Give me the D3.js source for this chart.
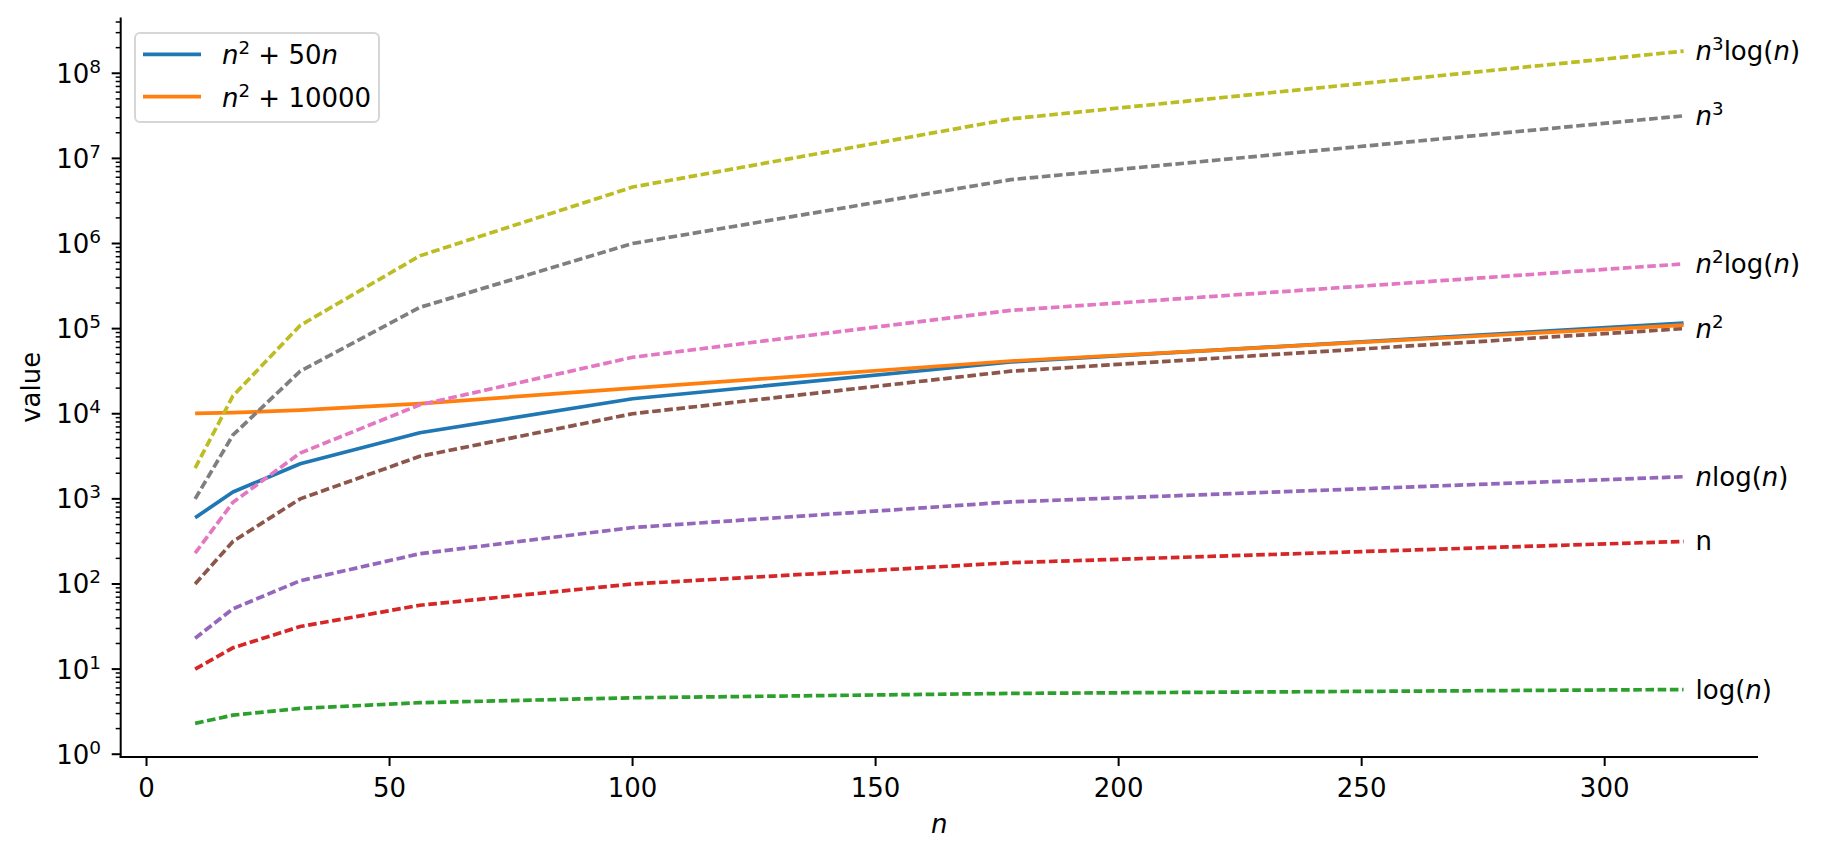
<!DOCTYPE html>
<html>
<head>
<meta charset="utf-8">
<script src="https://cdn.jsdelivr.net/npm/d3@7"></script>
<style>
  html, body { margin: 0; padding: 0; background: #fff; }
  svg { display: block; font-family: "DejaVu Sans", sans-serif; }
</style>
</head>
<body>
<svg id="chart" width="1821" height="858"></svg>
<script>
// ---------------- data ----------------
const nValues = [10, 17.78, 31.62, 56.23, 100, 177.83, 316.23];

const logN      = [2.303, 2.878, 3.454, 4.029, 4.605, 5.181, 5.756];
const linN      = [10, 17.78, 31.62, 56.23, 100, 177.83, 316.23];
const nLogN     = [23.03, 51.17, 109.2, 226.6, 460.5, 921.3, 1820.3];
const nSq       = [100, 316.2, 1000, 3162, 10000, 31623, 100000];
const nSqLogN   = [230.3, 910.2, 3454, 12741, 46052, 163840, 575646];
const nCube     = [1000, 5623, 31623, 177828, 1000000, 5623413, 31622777];
const nCubeLogN = [2303, 16184, 109220, 716490, 4605170, 29130000, 182060000];
const nSqPlus50n    = [600, 1205.4, 2581, 5974, 15000, 40514, 115811];
const nSqPlus10000  = [10100, 10316, 11000, 13162, 20000, 41623, 110000];

const xTicks = [0, 50, 100, 150, 200, 250, 300];
const yTickExponents = [0, 1, 2, 3, 4, 5, 6, 7, 8];

// label parts: t = text, i = italic, s = superscript
const solidSeries = [
  {values: nSqPlus50n,   color: "#1f77b4", legend: [{t:"n",i:1},{t:"2",s:1},{t:" + 50"},{t:"n",i:1}]},
  {values: nSqPlus10000, color: "#ff7f0e", legend: [{t:"n",i:1},{t:"2",s:1},{t:" + 10000"}]}
];
const dashedSeries = [
  {values: logN,      color: "#2ca02c", label: [{t:"log("},{t:"n",i:1},{t:")"}]},
  {values: linN,      color: "#d62728", label: [{t:"n"}]},
  {values: nLogN,     color: "#9467bd", label: [{t:"n",i:1},{t:"log("},{t:"n",i:1},{t:")"}]},
  {values: nSq,       color: "#8c564b", label: [{t:"n",i:1},{t:"2",s:1}]},
  {values: nSqLogN,   color: "#e377c2", label: [{t:"n",i:1},{t:"2",s:1},{t:"log("},{t:"n",i:1},{t:")"}]},
  {values: nCube,     color: "#7f7f7f", label: [{t:"n",i:1},{t:"3",s:1}]},
  {values: nCubeLogN, color: "#bcbd22", label: [{t:"n",i:1},{t:"3",s:1},{t:"log("},{t:"n",i:1},{t:")"}]}
];

// ---------------- layout ----------------
const svg = d3.select("#chart");
const L = 120.7, R = 1758, T = 17.5, B = 757;
const FS = 26;
const LW = 3.7;

const xMin = 10, xMax = 316.23;
const xPad = (xMax - xMin) * 0.05;
const x = d3.scaleLinear().domain([xMin - xPad, xMax + xPad]).range([L, R]);

const lyMin = Math.log10(2.3026), lyMax = Math.log10(182060000);
const lyPad = (lyMax - lyMin) * 0.05;
const y = d3.scaleLog().domain([Math.pow(10, lyMin - lyPad), Math.pow(10, lyMax + lyPad)]).range([B, T]);

function richText(sel, parts, fs) {
  parts.forEach((p, k) => {
    const ts = sel.append("tspan").text(p.t);
    if (p.i) ts.attr("font-style", "italic");
    if (p.s) {
      ts.attr("font-size", fs * 0.7).attr("dy", -fs * 0.38);
    } else if (k > 0 && parts[k-1].s) {
      ts.attr("dy", fs * 0.38);
    }
  });
}

// ---------------- lines ----------------
const line = vals => d3.line().x((d, i) => x(nValues[i])).y(d => y(d))(vals);

const plot = svg.append("g");
solidSeries.forEach(s => {
  plot.append("path").attr("d", line(s.values)).attr("fill", "none")
    .attr("stroke", s.color).attr("stroke-width", LW).attr("stroke-linejoin", "round");
});
dashedSeries.forEach(s => {
  plot.append("path").attr("d", line(s.values)).attr("fill", "none")
    .attr("stroke", s.color).attr("stroke-width", LW)
    .attr("stroke-dasharray", "8.6,3.6");
});

// right-side labels
dashedSeries.forEach(s => {
  const lastX = x(nValues[nValues.length - 1]);
  const lastY = y(s.values[s.values.length - 1]);
  const t = svg.append("text").attr("x", lastX + 12).attr("y", lastY + 9)
    .attr("font-size", FS).attr("fill", "#000");
  richText(t, s.label, FS);
});

// ---------------- axes ----------------
const axes = svg.append("g");
// x ticks
xTicks.forEach(v => {
  axes.append("line").attr("x1", x(v)).attr("x2", x(v)).attr("y1", B).attr("y2", B + 9)
    .attr("stroke", "#000").attr("stroke-width", 2);
  axes.append("text").attr("x", x(v)).attr("y", B + 40).attr("text-anchor", "middle")
    .attr("font-size", FS).attr("fill", "#000").text(v);
});
// y ticks major + minor
const [d0, d1] = y.domain();
for (let e = Math.floor(Math.log10(d0)); e <= Math.ceil(Math.log10(d1)); e++) {
  for (let m = 1; m <= 9; m++) {
    const v = m * Math.pow(10, e);
    if (v < d0 || v > d1) continue;
    const yy = y(v);
    axes.append("line").attr("x1", L).attr("x2", L - (m === 1 ? 9 : 5)).attr("y1", yy).attr("y2", yy)
      .attr("stroke", "#000").attr("stroke-width", m === 1 ? 2 : 1.5);
  }
}
yTickExponents.forEach(e => {
  const yy = y(Math.pow(10, e));
  const t = axes.append("text").attr("x", 101).attr("y", yy + 9.5).attr("text-anchor", "end")
    .attr("font-size", FS).attr("fill", "#000");
  t.append("tspan").text("10");
  t.append("tspan").attr("font-size", 18.5).attr("dy", -10).text(e);
});
// spines
axes.append("line").attr("x1", L).attr("x2", L).attr("y1", T).attr("y2", B + 1)
  .attr("stroke", "#000").attr("stroke-width", 2);
axes.append("line").attr("x1", L - 1).attr("x2", R).attr("y1", B).attr("y2", B)
  .attr("stroke", "#000").attr("stroke-width", 2);

// axis labels
svg.append("text").attr("transform", `translate(40,${(T + B) / 2}) rotate(-90)`)
  .attr("text-anchor", "middle").attr("font-size", FS).attr("fill", "#000").text("value");
svg.append("text").attr("x", (L + R) / 2).attr("y", 833).attr("text-anchor", "middle")
  .attr("font-size", FS).attr("font-style", "italic").attr("fill", "#000").text("n");

// ---------------- legend ----------------
const lg = svg.append("g");
lg.append("rect").attr("x", 135).attr("y", 33).attr("width", 244).attr("height", 89).attr("rx", 5)
  .attr("fill", "#fff").attr("fill-opacity", 0.8).attr("stroke", "#d6d6d6").attr("stroke-width", 2);
solidSeries.forEach((s, i) => {
  const yy = 54.3 + i * 42.4;
  lg.append("line").attr("x1", 143).attr("x2", 201).attr("y1", yy).attr("y2", yy)
    .attr("stroke", s.color).attr("stroke-width", LW);
  const t = lg.append("text").attr("x", 222).attr("y", yy + 10).attr("font-size", FS).attr("fill", "#000");
  richText(t, s.legend, FS);
});
</script>
</body>
</html>
